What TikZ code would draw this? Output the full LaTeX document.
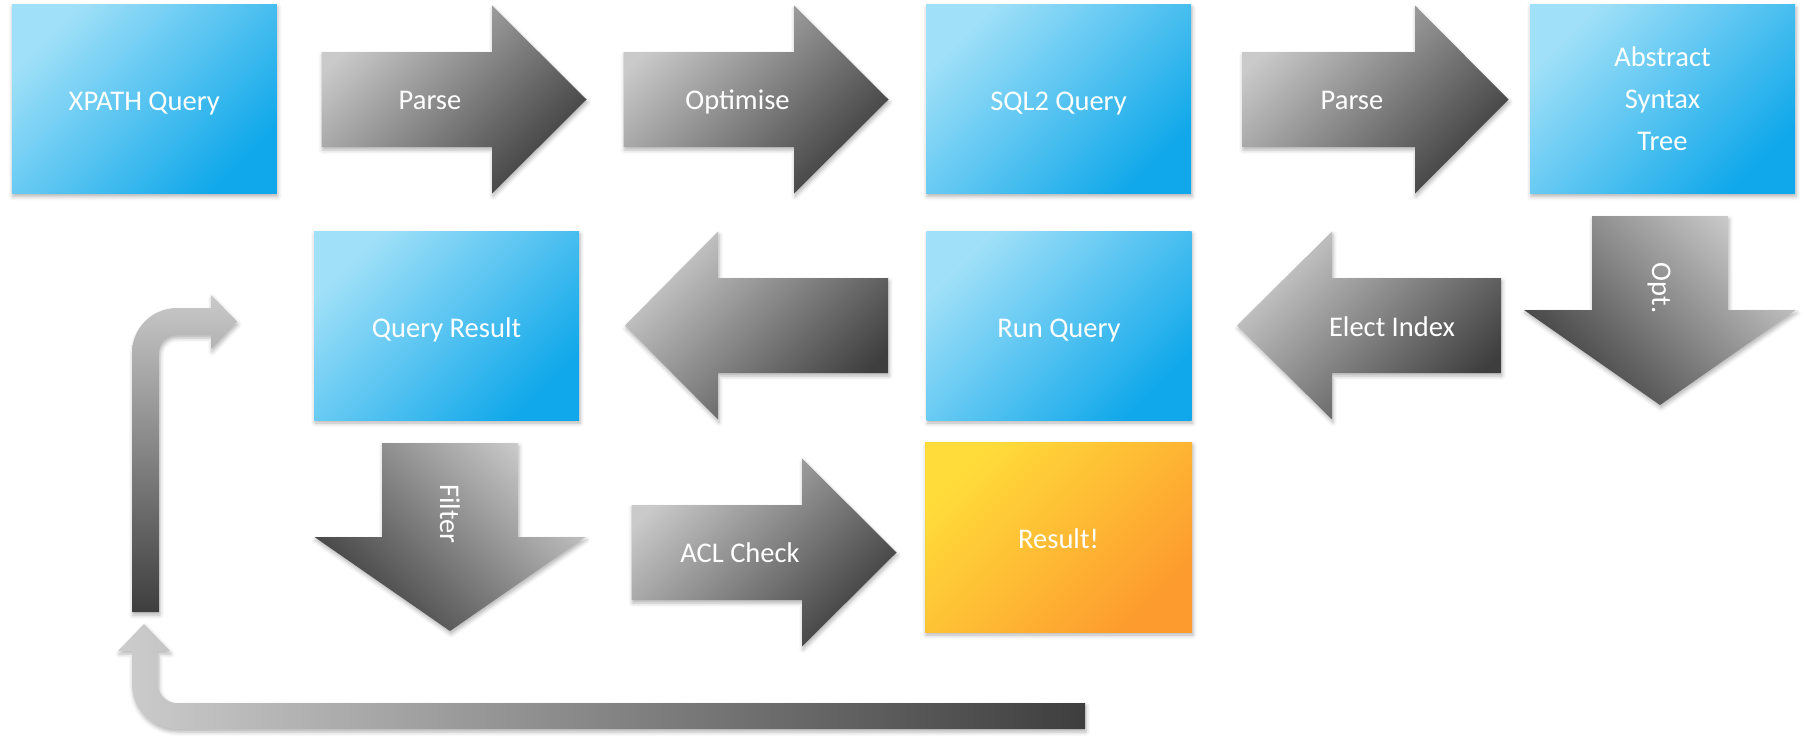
\documentclass[tikz,border=0pt]{standalone}
\usepackage{fontspec}
\setmainfont{Carlito}
\usetikzlibrary{shadows.blur}
\definecolor{blueL}{RGB}{160,224,248}
\definecolor{blueD}{RGB}{16,168,234}
\definecolor{yelL}{RGB}{255,220,58}
\definecolor{orD}{RGB}{253,155,46}
\definecolor{grayL}{RGB}{202,202,202}
\definecolor{grayD}{RGB}{62,62,62}
\newcommand\BArR[7]{\path[#1] (#2,#5-#6) -- (#3,#5-#6) -- (#3,#5-#7) -- (#4,#5) -- (#3,#5+#7) -- (#3,#5+#6) -- (#2,#5+#6) -- cycle;}
\newcommand\BArD[7]{\path[#1] (#5-#6,#2) -- (#5+#6,#2) -- (#5+#6,#3) -- (#5+#7,#3) -- (#5,#4) -- (#5-#7,#3) -- (#5-#6,#3) -- cycle;}
\begin{document}
\begin{tikzpicture}[x=1pt,y=-1pt,
  sh/.style={blur shadow={shadow xshift=1pt, shadow yshift=-3pt, shadow blur radius=4pt, shadow opacity=30}},
  lbl/.style={text=white, font=\fontsize{28.5}{42}\selectfont, inner sep=0pt, align=center},
  flat/.style={lbl, text depth=0pt},
  oneline/.style={text height=23pt},
  bluebox/.style={sh, top color=blueL, bottom color=blueD, shading angle=45, minimum width=265pt, minimum height=189pt, inner sep=0pt, flat},
  yelbox/.style={sh, top color=yelL, bottom color=orD, shading angle=45, minimum width=267pt, minimum height=190pt, inner sep=0pt, flat},
  grayH/.style={sh, top color=grayL, bottom color=grayD, shading angle=45},
  grayV/.style={sh, top color=grayL, bottom color=grayD, shading angle=-45}]
\useasboundingbox (0,0) rectangle (1807,736);

% feedback arrows
\path[sh, top color=grayL, bottom color=grayD]
  (132,612) -- (132,353) arc[start angle=180, end angle=270, radius=45]
  -- (211,308) -- (211,295) -- (237,321.5) -- (211,349) -- (211,335) -- (177,335)
  arc[start angle=270, end angle=180, radius=18] -- (159,612) -- cycle;
\path[sh, left color=grayL!95!white, right color=grayD]
  (1085,703) -- (177,703) arc[start angle=90, end angle=180, radius=19]
  -- (158,651) -- (170,651) -- (144,624) -- (118,651) -- (132,651) -- (132,684)
  arc[start angle=180, end angle=90, radius=45] -- (1085,729) -- cycle;

% block arrows
\BArR{grayH}{321.5}{492}{586.5}{99.5}{47.5}{94}
\BArR{grayH}{623.5}{794}{888.5}{99.5}{47.5}{94}
\BArR{grayH}{1242}{1415}{1508.5}{99.5}{47.5}{94}
\BArR{grayH}{888}{718}{625}{325.5}{47.5}{94}
\BArR{grayH}{1501}{1332}{1237}{325.5}{47.5}{94}
\BArR{grayH}{631.5}{802}{896.5}{552.5}{47.5}{94}
\BArD{grayV}{216}{310}{405}{1660}{68}{136}
\BArD{grayV}{443}{537}{631}{450}{68}{135.5}

% boxes
\node[bluebox, oneline] (xpath) at (144.25,99) {XPATH Query};
\node[bluebox, oneline] (sql2) at (1058.5,99) {SQL2 Query};
\node[bluebox] (ast) at (1662.5,99) {Abstract\\Syntax\\Tree};
\node[bluebox, oneline] (qres) at (446.5,325.5) {Query Result};
\node[bluebox, oneline] (runq) at (1059,325.5) {Run Query};
\node[yelbox, oneline] (res) at (1058.5,537) {Result!};

% arrow labels
\node[flat] (lparse1) at (430,100) {Parse};
\node[flat] (lopt) at (737.5,100) {Optimise};
\node[flat] (lparse2) at (1352,100) {Parse};
\node[flat] (lelect) at (1392,327) {Elect Index};
\node[flat] (lacl) at (740,553) {ACL Check};
\node[lbl, rotate=-90] (lopt2) at (1659,288) {Opt.};
\node[lbl, rotate=-90] (lfilter) at (450,514) {Filter};
\end{tikzpicture}
\end{document}
